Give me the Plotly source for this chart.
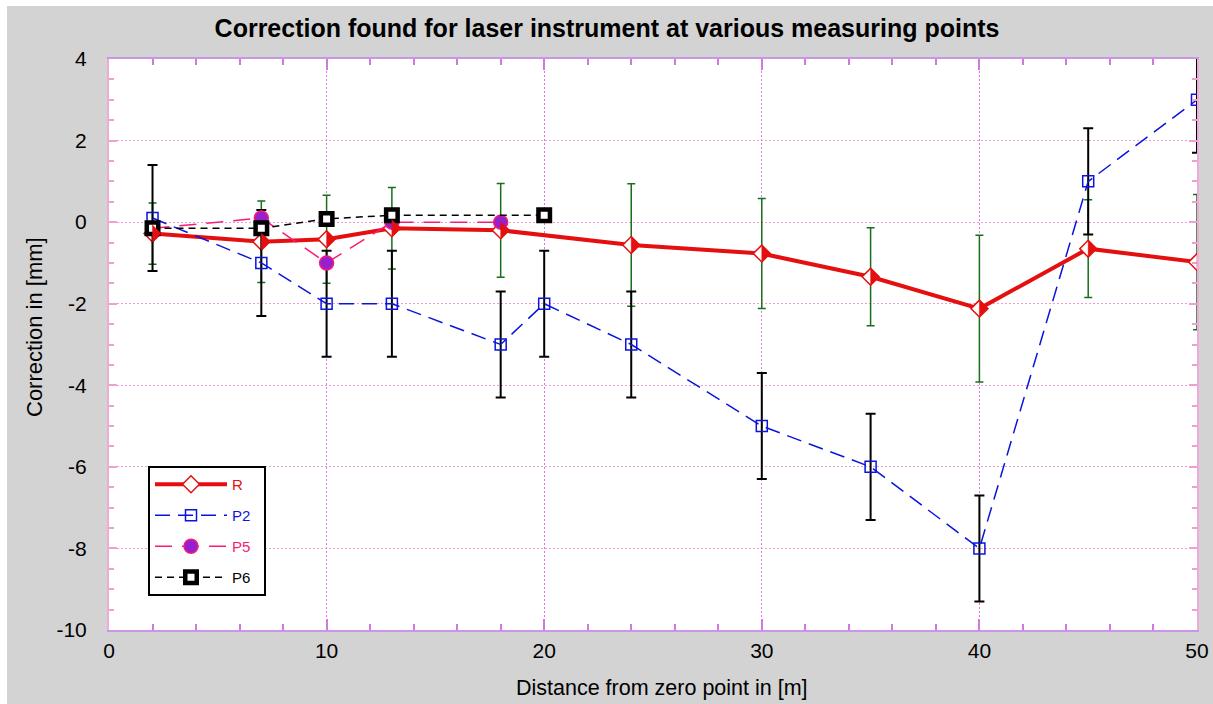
import plotly.graph_objects as go

# ---------------- data ----------------
r_x = [2, 7, 10, 13, 18, 24, 30, 35, 40, 45, 50]
r_y = [-0.28, -0.48, -0.42, -0.15, -0.2, -0.56, -0.77, -1.34, -2.12, -0.65, -0.98]
r_err = [0.75, 1.0, 1.08, 1.0, 1.15, 1.5, 1.35, 1.2, 1.8, 1.2, 1.66]

p2_x = [2, 7, 10, 13, 18, 20, 24, 30, 35, 40, 45, 50]
p2_y = [0.1, -1, -2, -2, -3, -2, -3, -5, -6, -8, 1, 3]
p2_err = [1.3, 1.3, 1.3, 1.3, 1.3, 1.3, 1.3, 1.3, 1.3, 1.3, 1.3, 1.3]

p5_x = [2, 7, 10, 13, 18]
p5_y = [-0.15, 0.1, -1, 0, 0]

p6_x = [2, 7, 10, 13, 20]
p6_y = [-0.15, -0.15, 0.08, 0.17, 0.17]

x_range = [0, 50]
y_range = [-10, 4]
x_tickvals = [0, 10, 20, 30, 40, 50]
x_ticktext = ["0", "10", "20", "30", "40", "50"]
y_tickvals = [-10, -8, -6, -4, -2, 0, 2, 4]
y_ticktext = ["-10", "-8", "-6", "-4", "-2", "0", "2", "4"]

title_text = "Correction found for laser instrument at various measuring points"
x_title = "Distance from zero point in [m]"
y_title = "Correction in [mm]"

# ---------------- style ----------------
RED = "#e41010"
BLUE = "#0a14dc"
PINK = "#f81c74"
PURPLE = "#9420d0"
GREEN = "#1a6e1a"
FONT = "Liberation Sans, Arial, sans-serif"

W, H = 1213, 704
ML, MR, MT, MB = 109, 16, 59, 74
PW, PH = W - ML - MR, H - MT - MB


def px_to_paper(px, py):
    return (px - ML) / PW, (H - MB - py) / PH


NB = "\u00a0"

fig = go.Figure()

fig.add_trace(go.Scatter(
    x=r_x, y=r_y, name=f"<span style='color:{RED}'>R</span>" + NB * 2,
    mode="lines+markers", legendgroup="r",
    line=dict(color=RED, width=4),
    marker=dict(symbol="diamond", size=13, color="white", line=dict(color=RED, width=1.5)),
    error_y=dict(type="data", array=r_err, visible=True, color=GREEN, thickness=1.5, width=4),
))
fig.add_trace(go.Scatter(
    x=p2_x, y=p2_y, name=f"<span style='color:{BLUE}'>P2</span>" + NB * 2,
    mode="lines+markers", legendgroup="p2",
    line=dict(color=BLUE, width=1.5, dash="15px,8px"),
    marker=dict(symbol="square-open", size=11, color=BLUE, line=dict(color=BLUE, width=1.5)),
    error_y=dict(type="data", array=p2_err, visible=True, color="black", thickness=2, width=5),
))
fig.add_trace(go.Scatter(
    x=p5_x, y=p5_y, name=f"<span style='color:{PINK}'>P5</span>" + NB * 2,
    mode="lines+markers", legendgroup="p5",
    line=dict(color=PINK, width=1.5, dash="17px,10px"),
    marker=dict(symbol="circle", size=14, color=PURPLE, line=dict(color=PINK, width=1.5)),
))
fig.add_trace(go.Scatter(
    x=p6_x, y=p6_y, name="<span style='color:black'>P6</span>" + NB * 2,
    mode="lines+markers", legendgroup="p6",
    line=dict(color="black", width=1.5, dash="7px,5px"),
    marker=dict(symbol="square", size=11.5, color="white", line=dict(color="black", width=4.5)),
))

shapes = []
# outer gray background (leaving a thin white border) and white plot area
gx0, gy0 = px_to_paper(7, H + 2)
gx1, gy1 = px_to_paper(W + 2, 6)
shapes.append(dict(type="rect", xref="paper", yref="paper", x0=gx0, x1=gx1, y0=gy0, y1=gy1,
                   fillcolor="#d3d3d3", line=dict(width=0), layer="below"))
shapes.append(dict(type="rect", xref="paper", yref="paper", x0=0, x1=1, y0=0, y1=1,
                   fillcolor="white", line=dict(width=0), layer="below"))

# half-filled diamonds for R (right half filled)
HALF = 8.5
tri_path = f"M0,{HALF} L{HALF},0 L0,-{HALF} Z"
for xv, yv in zip(r_x, r_y):
    shapes.append(dict(type="path", xref="x", yref="y", xsizemode="pixel", ysizemode="pixel",
                       xanchor=xv, yanchor=yv, path=tri_path, fillcolor=RED,
                       line=dict(color=RED, width=0.5), layer="above"))

LEG_LEFT, LEG_TOP = 148, 466
legx, legy = px_to_paper(LEG_LEFT, LEG_TOP)
ITEMW = 72

GRID_DASH = "2px,2px"

xt_x, xt_y = px_to_paper(662, 688)
yt_x, yt_y = px_to_paper(34, 327)
annotations = [
    dict(text=x_title, xref="paper", yref="paper", x=xt_x, y=xt_y, xanchor="center",
         yanchor="middle", showarrow=False, font=dict(family=FONT, size=21.5, color="black")),
    dict(text=y_title, xref="paper", yref="paper", x=yt_x, y=yt_y, xanchor="center",
         yanchor="middle", textangle=-90, showarrow=False,
         font=dict(family=FONT, size=22, color="black")),
]

fig.update_layout(
    width=W, height=H, autosize=False,
    margin=dict(l=ML, r=MR, t=MT, b=MB, pad=0, autoexpand=False),
    paper_bgcolor="white", plot_bgcolor="white",
    font=dict(family=FONT, color="black", size=21),
    title=dict(text=f"<b>{title_text}</b>",
               x=(607 - ML) / PW, xanchor="center", xref="paper", y=1 - 28 / H, yanchor="middle",
               yref="container", font=dict(family=FONT, size=25, color="black")),
    showlegend=True,
    legend=dict(x=legx, y=legy, xanchor="left", yanchor="top", bgcolor="white",
                bordercolor="black", borderwidth=2, font=dict(family=FONT, size=15),
                tracegroupgap=8.5, itemwidth=ITEMW, traceorder="grouped"),
    shapes=shapes,
    annotations=annotations,
    xaxis=dict(range=x_range, tickmode="array", tickvals=x_tickvals, ticktext=x_ticktext,
               automargin=False, showgrid=True, gridcolor="#e070e8", griddash=GRID_DASH,
               gridwidth=1, zeroline=False, ticks="inside", ticklen=11, tickwidth=1.5,
               tickcolor="#d07ae0", showline=True, linecolor="#c896e4", linewidth=2, mirror="ticks",
               ticklabelstandoff=1, tickfont=dict(size=21),
               minor=dict(dtick=2, tick0=0, ticks="inside", ticklen=6, tickcolor="#d07ae0",
                          tickwidth=1.5, showgrid=False)),
    yaxis=dict(range=y_range, tickmode="array", tickvals=y_tickvals, ticktext=y_ticktext,
               automargin=False, showgrid=True, gridcolor="#f09cd4", griddash=GRID_DASH,
               gridwidth=1, zeroline=False, ticks="inside", ticklen=8, tickwidth=1.5,
               tickcolor="#f0a0d0", showline=True, linecolor="#f0aad8", linewidth=2, mirror="ticks",
               ticklabelstandoff=16, tickfont=dict(size=21),
               minor=dict(dtick=0.5, tick0=0, ticks="inside", ticklen=5, tickcolor="#f0a0d0",
                          tickwidth=1.5, showgrid=False)),
)

fig.write_html("out.html", config={"responsive": False})
